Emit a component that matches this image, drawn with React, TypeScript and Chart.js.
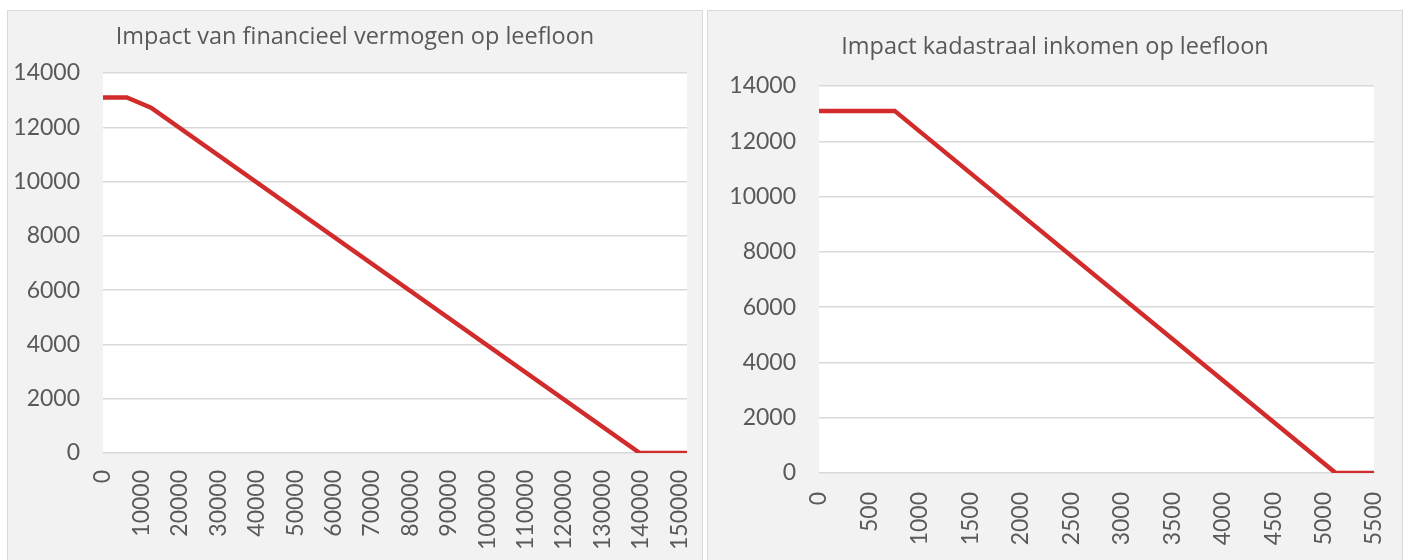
import React, { useEffect, useRef } from "react";
import { Chart, registerables } from "chart.js";

Chart.register(...registerables);

// ---- data ----
const wealthX = [0, 6200, 12500, 139700, 152000];
const wealthY = [13100, 13100, 12720, 0, 0];
const wealthTicks = [0, 10000, 20000, 30000, 40000, 50000, 60000, 70000, 80000, 90000, 100000, 110000, 120000, 130000, 140000, 150000];
const wealthTitle = "Impact van financieel vermogen op leefloon";

const kiX = [0, 750, 5120, 5500];
const kiY = [13100, 13100, 0, 0];
const kiTicks = [0, 500, 1000, 1500, 2000, 2500, 3000, 3500, 4000, 4500, 5000, 5500];
const kiTitle = "Impact kadastraal inkomen op leefloon";

const yTicks = [0, 2000, 4000, 6000, 8000, 10000, 12000, 14000];

const TEXT = "#595959";
const GRID = "#d9d9d9";
const LINE = "#d22b2b";
const FONT = "Lato, 'Open Sans', sans-serif";
const TITLE_FONT = "'Open Sans', Lato, sans-serif";
const TITLE_SIZE = 23.5;

const CW = 694;
const CH = 549;

const plotBg = {
  id: "plotBg",
  beforeDraw(chart: any) {
    const { ctx, chartArea } = chart;
    if (!chartArea) return;
    ctx.save();
    ctx.fillStyle = "#ffffff";
    ctx.fillRect(chartArea.left, chartArea.top, chartArea.right - chartArea.left, chartArea.bottom - chartArea.top);
    ctx.restore();
  },
};

type PanelProps = {
  left: number;
  title: string;
  xs: number[];
  ys: number[];
  xTicks: number[];
  xMax: number;
  area: { left: number; right: number; top: number; bottom: number };
  titleMid: number;
  xPad: number;
};

function Panel(p: PanelProps) {
  const ref = useRef<HTMLCanvasElement | null>(null);
  useEffect(() => {
    if (!ref.current) return;
    const lh = TITLE_SIZE * 1.2;
    const chart = new Chart(ref.current, {
      type: "line",
      data: {
        datasets: [
          {
            data: p.xs.map((x, i) => ({ x, y: p.ys[i] })),
            borderColor: LINE,
            backgroundColor: LINE,
            borderWidth: 4.5,
            pointRadius: 0,
            tension: 0,
            fill: false,
          },
        ],
      },
      options: {
        responsive: false,
        animation: false,
        devicePixelRatio: 1,
        layout: { padding: 0 },
        plugins: {
          legend: { display: false },
          tooltip: { enabled: false },
          title: {
            display: true,
            text: p.title,
            color: TEXT,
            font: { family: TITLE_FONT, size: TITLE_SIZE, weight: "normal", lineHeight: 1.2 },
            padding: { top: p.titleMid - lh / 2, bottom: p.area.top - p.titleMid - lh / 2 },
          },
        },
        scales: {
          x: {
            type: "linear",
            min: 0,
            max: p.xMax,
            afterBuildTicks: (s: any) => {
              s.ticks = p.xTicks.map((v) => ({ value: v }));
            },
            afterFit: (s: any) => {
              s.height = CH - p.area.bottom;
              s.paddingLeft = 0;
              s.paddingRight = CW - p.area.right;
            },
            grid: { display: false, drawTicks: false },
            border: { display: false },
            ticks: {
              autoSkip: false,
              minRotation: 90,
              maxRotation: 90,
              padding: p.xPad,
              color: TEXT,
              font: { family: FONT, size: 23 },
              callback: (v: any) => String(v),
            },
          },
          y: {
            type: "linear",
            min: 0,
            max: 14000,
            afterBuildTicks: (s: any) => {
              s.ticks = yTicks.map((v) => ({ value: v }));
            },
            afterFit: (s: any) => {
              s.width = p.area.left;
              s.paddingTop = 0;
              s.paddingBottom = 0;
            },
            grid: { color: GRID, lineWidth: 1.5, drawTicks: false },
            border: { display: false },
            ticks: {
              padding: 23,
              color: TEXT,
              font: { family: FONT, size: 23 },
              callback: (v: any) => String(v),
            },
          },
        },
      } as any,
      plugins: [plotBg],
    });
    return () => chart.destroy();
  }, []);
  return (
    <div
      style={{
        position: "absolute",
        left: p.left,
        top: 10,
        width: CW,
        height: 560,
        border: "1px solid #d9d9d9",
        background: "#f2f2f2",
      }}
    >
      <canvas ref={ref} width={CW} height={CH} style={{ display: "block", width: CW, height: CH }} />
    </div>
  );
}

export default function App() {
  return (
    <div style={{ position: "fixed", left: 0, top: 0, width: 1411, height: 560, overflow: "hidden", background: "#ffffff" }}>
      <Panel
        left={7}
        title={wealthTitle}
        xs={wealthX}
        ys={wealthY}
        xTicks={wealthTicks}
        xMax={152000}
        area={{ left: 95, right: 679, top: 62, bottom: 442 }}
        titleMid={26}
        xPad={17}
      />
      <Panel
        left={707}
        title={kiTitle}
        xs={kiX}
        ys={kiY}
        xTicks={kiTicks}
        xMax={5500}
        area={{ left: 111, right: 666, top: 75, bottom: 462 }}
        titleMid={36}
        xPad={19}
      />
    </div>
  );
}
